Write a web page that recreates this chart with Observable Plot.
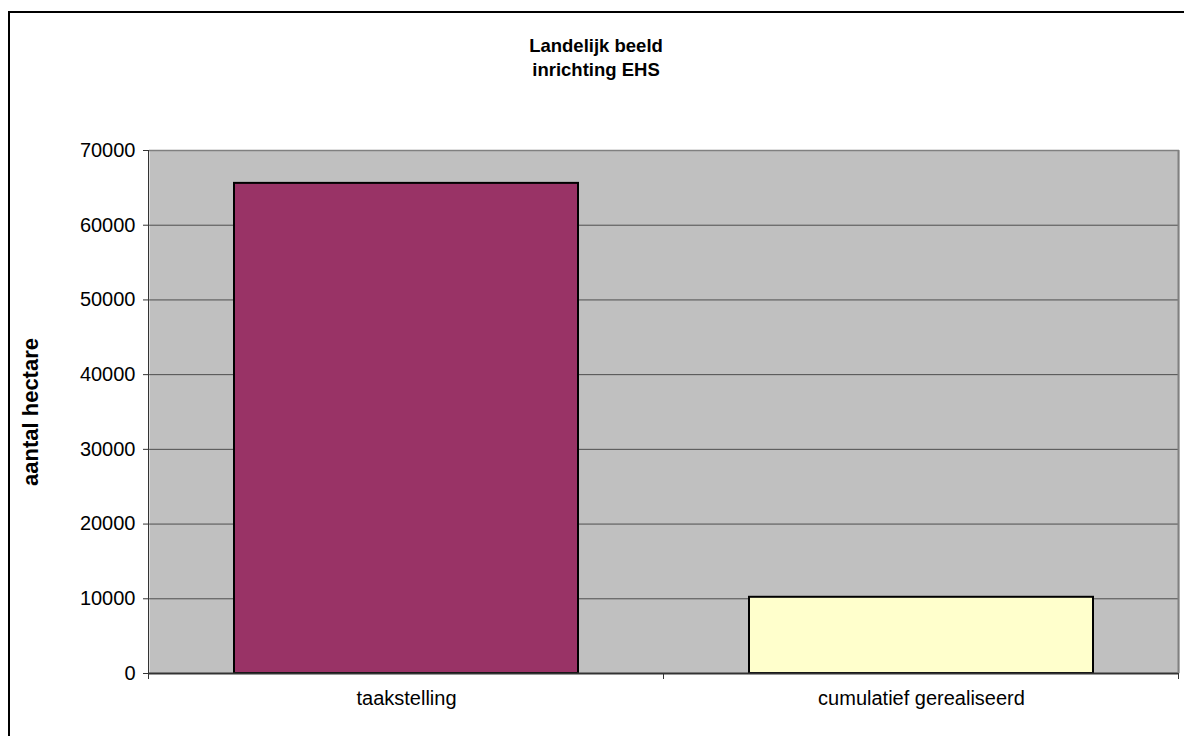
<!DOCTYPE html>
<html>
<head>
<meta charset="utf-8">
<script src="https://cdn.jsdelivr.net/npm/d3@7"></script>
<script src="https://cdn.jsdelivr.net/npm/@observablehq/plot@0.6"></script>
<style>
  html, body { margin: 0; padding: 0; background: #fff; overflow: hidden; }
  #wrap { position: relative; width: 1184px; height: 736px; font-family: "Liberation Sans", Arial, sans-serif; }
  #border { position: absolute; left: 8px; top: 11px; width: 1200px; height: 760px; border: 2px solid #000; box-sizing: border-box; }
  #title { position: absolute; left: 0; width: 1192px; top: 34px; text-align: center; font-weight: bold; font-size: 18.5px; line-height: 24px; color: #000; }
  #chart { position: absolute; left: 0; top: 0; }
</style>
</head>
<body>
<div id="wrap">
  <div id="border"></div>
  <div id="chart"></div>
  <div id="title">Landelijk beeld<br>inrichting EHS</div>
</div>
<script>
const categories = ["taakstelling", "cumulatief gerealiseerd"];
const values = [65600, 10200];
const colors = ["#993366", "#FFFFCC"];
const yTicks = [0, 10000, 20000, 30000, 40000, 50000, 60000, 70000];
const yLabel = "aantal hectare";

const data = categories.map((c, i) => ({category: c, value: values[i], color: colors[i]}));

const plot = Plot.plot({
  width: 1184,
  height: 736,
  marginLeft: 149,
  marginRight: 5,
  marginTop: 150,
  marginBottom: 63,
  style: {fontFamily: "'Liberation Sans', Arial, sans-serif", fontSize: "20px", background: "transparent", color: "#000"},
  x: {domain: categories, paddingInner: 0.332, paddingOuter: 0.166, label: null},
  y: {domain: [0, 70000], ticks: yTicks, label: null},
  marks: [
    Plot.frame({fill: "#C0C0C0", stroke: null}),
    Plot.gridY(yTicks, {stroke: "#000", strokeOpacity: 0.6, strokeWidth: 1}),
    Plot.ruleY([70000], {stroke: "#808080", strokeWidth: 1.5}),
    Plot.barY(data, {x: "category", y: "value", fill: "color", stroke: "#000", strokeWidth: 2}),
    Plot.ruleY([0], {stroke: "#333", strokeWidth: 2}),
    Plot.axisY({ticks: yTicks, tickFormat: d => String(d), tickSize: 6, tickPadding: 8, stroke: "#333", fontSize: 20, label: null}),
    Plot.axisX({tickSize: 0, tickPadding: 17, fontSize: 20, label: null}),
    Plot.text([yLabel], {frameAnchor: "left", dx: -119, rotate: -90, textAnchor: "middle", fontWeight: "bold", fontSize: 22})
  ]
});
document.getElementById("chart").appendChild(plot);

// band boundary ticks on the x axis and the plot-area edge lines, placed through the band scale
const svg = d3.select(plot);
const xs = plot.scale("x");
const ys = plot.scale("y");
const step = xs.step;
const half = (step - xs.bandwidth) / 2;
const bounds = categories.map(c => xs.apply(c) - half)
  .concat([xs.apply(categories[categories.length - 1]) + xs.bandwidth + half]);
const y0 = ys.apply(0), yTop = ys.apply(70000);
svg.append("g").selectAll("line").data(bounds).join("line")
  .attr("x1", d => d).attr("x2", d => d)
  .attr("y1", y0).attr("y2", y0 + 6)
  .attr("stroke", "#333");
svg.append("line")
  .attr("x1", bounds[bounds.length - 1]).attr("x2", bounds[bounds.length - 1])
  .attr("y1", yTop).attr("y2", y0)
  .attr("stroke", "#808080").attr("stroke-width", 2);
svg.append("line")
  .attr("x1", bounds[0]).attr("x2", bounds[0])
  .attr("y1", yTop).attr("y2", y0 + 6)
  .attr("stroke", "#333");
</script>
</body>
</html>
